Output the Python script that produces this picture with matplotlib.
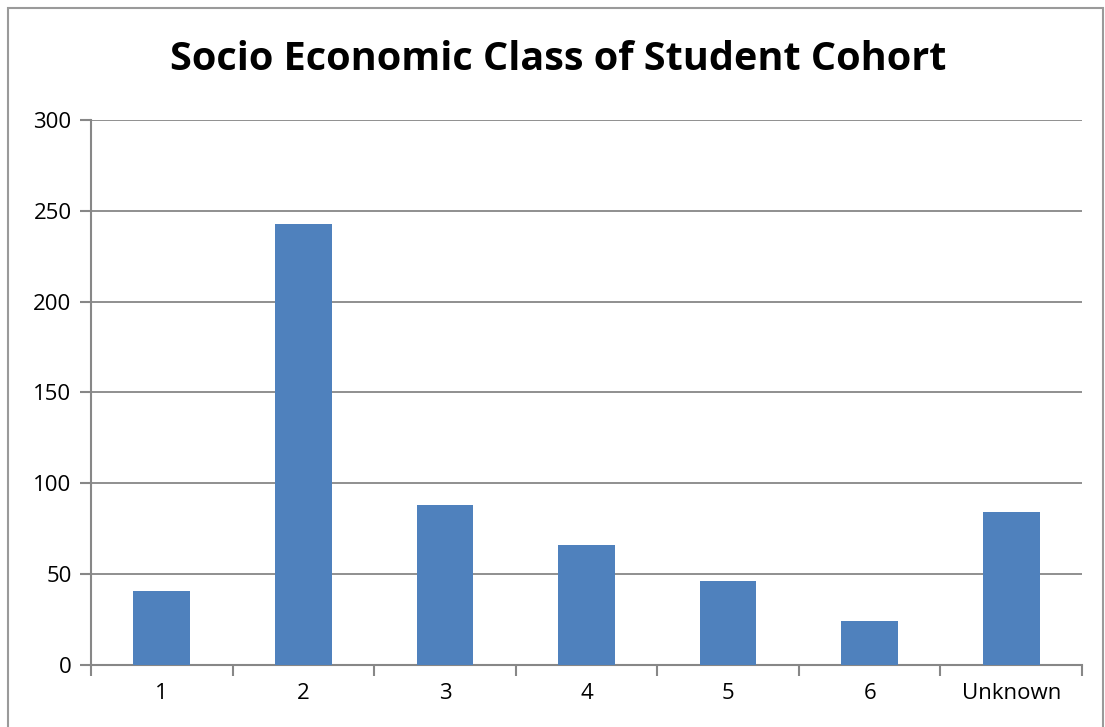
import matplotlib

matplotlib.use("Agg")
import matplotlib.pyplot as plt
from matplotlib.patches import Rectangle

# Data
categories = ["1", "2", "3", "4", "5", "6", "Unknown"]
counts = [41, 243, 88, 66, 46, 24, 84]
y_ticks = [0, 50, 100, 150, 200, 250, 300]

BAR_COLOR = "#4f81bd"
GRID_COLOR = "#878787"

plt.rcParams["font.family"] = ["Open Sans", "DejaVu Sans"]

fig = plt.figure(figsize=(11.05, 7.27), dpi=100)
ax = fig.add_axes([91 / 1105, 1 - 665 / 727, (1082 - 91) / 1105, (665 - 120) / 727])

x = list(range(len(categories)))
ax.bar(x, counts, width=0.40, color=BAR_COLOR, zorder=3)

ax.set_xlim(-0.5, len(categories) - 0.5)
ax.set_ylim(0, 300)
ax.set_yticks(y_ticks)
ax.set_yticklabels([str(v) for v in y_ticks], fontsize=16)

# category labels centred, tick marks on category boundaries
ax.set_xticks(x)
ax.set_xticklabels(categories, fontsize=16)
ax.tick_params(axis="x", which="major", length=0, pad=13)
ax.set_xticks([i - 0.5 for i in range(len(categories) + 1)], minor=True)
ax.tick_params(axis="x", which="minor", length=8, color=GRID_COLOR, width=1.5)
ax.tick_params(axis="y", length=8, color=GRID_COLOR, width=1.5, pad=6)

ax.grid(axis="y", color=GRID_COLOR, linewidth=1.3, zorder=0)
for side in ("top", "right"):
    ax.spines[side].set_visible(False)
for side in ("left", "bottom"):
    ax.spines[side].set_color(GRID_COLOR)
    ax.spines[side].set_linewidth(1.5)

fig.text(558 / 1105, 1 - 60 / 727, "Socio Economic Class of Student Cohort",
         ha="center", va="center", fontsize=28.5, fontweight="bold")

# chart frame
fig.patches.append(Rectangle((8 / 1105, -0.1), (1103 - 8) / 1105, 1.1 - 8 / 727,
                             transform=fig.transFigure, fill=False,
                             edgecolor="#9a9a9a", linewidth=1.5))

fig.savefig("out.png", dpi=100)
